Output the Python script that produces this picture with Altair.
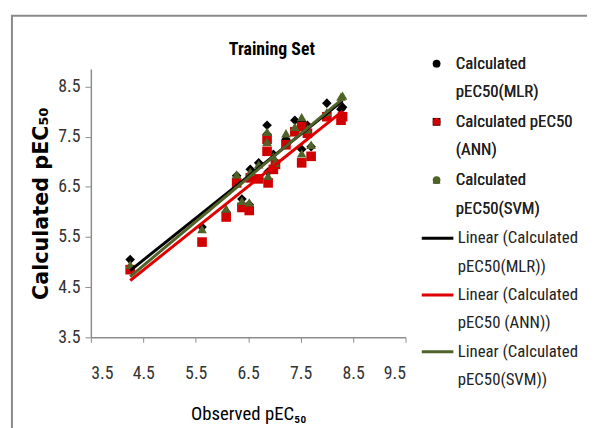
import altair as alt
import pandas as pd

# ---------------- data ----------------
observed = [4.25, 5.62, 6.08, 6.28, 6.38, 6.52, 6.54, 6.70, 6.86, 6.86, 6.88,
            6.98, 7.02, 7.22, 7.39, 7.52, 7.52, 7.63, 7.70, 8.00, 8.27, 8.30]
mlr = [5.05, 5.70, 6.00, 6.72, 6.26, 6.15, 6.85, 6.98, 7.73, 7.55, 6.80,
       7.15, 7.00, 7.45, 7.83, 7.80, 7.25, 7.73, 7.30, 8.17, 8.05, 8.09]
ann = [4.85, 5.40, 5.90, 6.58, 6.09, 6.03, 6.68, 6.66, 7.21, 7.45, 6.58,
       6.85, 6.95, 7.34, 7.60, 7.70, 6.98, 7.57, 7.11, 7.90, 7.83, 7.90]
svm = [4.95, 5.66, 6.07, 6.75, 6.22, 6.19, 6.80, 6.95, 7.40, 7.60, 6.72,
       7.11, 6.98, 7.57, 7.70, 7.89, 7.17, 7.65, 7.34, 7.99, 8.30, 8.32]

series_names = ["Calculated pEC50(MLR)", "Calculated pEC50 (ANN)", "Calculated pEC50(SVM)"]
trend_names = ["Linear (Calculated pEC50(MLR))", "Linear (Calculated pEC50 (ANN))",
               "Linear (Calculated pEC50(SVM))"]
marker_colors = ["#000000", "#d10000", "#4f6228"]
line_colors = ["#000000", "#e00000", "#4f6228"]
marker_shapes = ["diamond", "square", "triangle-up"]
x_ticks = [3.5, 4.5, 5.5, 6.5, 7.5, 8.5, 9.5]
y_ticks = [3.5, 4.5, 5.5, 6.5, 7.5, 8.5]

rows = []
for name, vals in zip(series_names, [mlr, ann, svm]):
    for o, v in zip(observed, vals):
        rows.append({"observed": o, "value": v, "series": name})
df = pd.DataFrame(rows)

NARROW = "'Roboto Condensed', 'Noto Sans Condensed', 'Open Sans Condensed', Lato, sans-serif"

x_enc = alt.X(
    "observed:Q",
    scale=alt.Scale(domain=[3.5, 9.5], nice=False, zero=False),
    axis=alt.Axis(values=x_ticks, format=".1f", title="Observed pEC₅₀", grid=False,
                  domainColor="#8c8c8c", domainWidth=1.5, tickColor="#8c8c8c",
                  tickSize=5, labelPadding=23, labelFont=NARROW, labelFontSize=18,
                  labelColor="#333333", titleFont=NARROW, titleFontSize=19,
                  titleFontWeight="normal", titleColor="#000000", titlePadding=22),
)
y_enc = alt.Y(
    "value:Q",
    scale=alt.Scale(domain=[3.5, 8.85], nice=False, zero=False),
    axis=alt.Axis(values=y_ticks, format=".1f", title="Calculated  pEC₅₀", grid=False,
                  domainColor="#8c8c8c", domainWidth=1.5, tickColor="#8c8c8c",
                  tickSize=6, labelPadding=5, labelFont=NARROW, labelFontSize=18,
                  labelColor="#333333", titleFont="DejaVu Sans", titleFontSize=21,
                  titleFontWeight="bold", titleColor="#000000", titlePadding=6),
)

pts_legend = alt.Legend(
    title=None, orient="none", legendX=342, legendY=-14, padding=0,
    labelFont=NARROW, labelFontSize=17, labelColor="#222222", labelLimit=300,
    labelBaseline="middle", labelOffset=11, rowPadding=12, symbolSize=62,
    labelExpr="[slice(datum.label, 0, lastindexof(datum.label, ' ')), "
              "slice(datum.label, lastindexof(datum.label, ' ') + 1)]",
)
line_legend = alt.Legend(
    title=None, orient="none", legendX=334, legendY=154, padding=0,
    labelFont=NARROW, labelFontSize=17, labelColor="#222222", labelLimit=300,
    labelBaseline="middle", labelOffset=3, rowPadding=2.5, symbolSize=1024,
    symbolStrokeWidth=3,
    labelExpr="[slice(datum.label, 0, 18), slice(datum.label, 19)]",
)

base = alt.Chart(df)

points = base.mark_point(filled=True, opacity=1, size=95).encode(
    x=x_enc, y=y_enc,
    color=alt.Color("series:N", scale=alt.Scale(domain=series_names, range=marker_colors),
                    legend=pts_legend),
    shape=alt.Shape("series:N", scale=alt.Scale(domain=series_names, range=marker_shapes),
                    legend=pts_legend),
)

lines = base.transform_regression(
    "observed", "value", groupby=["series"]
).transform_calculate(
    trend="'Linear (' + datum.series + ')'"
).mark_line(strokeWidth=3).encode(
    x=x_enc, y=y_enc,
    color=alt.Color("trend:N", scale=alt.Scale(domain=trend_names, range=line_colors),
                    legend=line_legend),
)

frame = alt.Chart(alt.Data(values=[{}])).mark_rect(
    fill="transparent", stroke="#8a8a8a", strokeWidth=2
).encode(x=alt.value(-80), x2=alt.value(560), y=alt.value(-54), y2=alt.value(420))

chart = alt.layer(frame, points, lines).resolve_scale(
    color="independent"
).properties(
    width=319, height=272,
    autosize=alt.AutoSizeParams(type="none"),
    padding={"left": 84, "top": 59, "right": 184, "bottom": 89},
    title=alt.TitleParams("Training Set", font=NARROW, fontSize=18, fontWeight="bold",
                          color="#000000", anchor="middle", dx=24, dy=45, offset=0),
).configure(
    style={"guide-label": {"lineHeight": 29}}
).configure_view(stroke=None)

chart.save("out.html", embed_options={"renderer": "svg", "actions": False})
